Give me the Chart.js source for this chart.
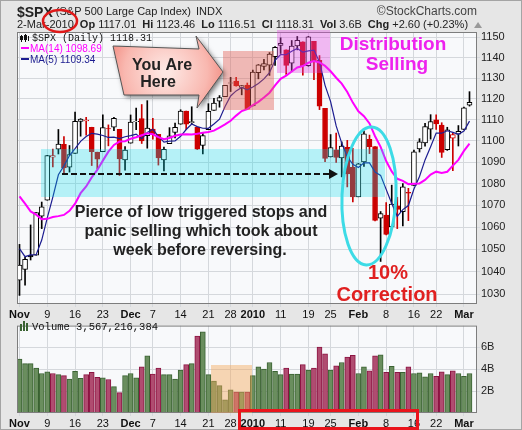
<!DOCTYPE html>
<html>
<head>
<meta charset="utf-8">
<script src="https://cdn.jsdelivr.net/npm/chart.js@4.4.1/dist/chart.umd.min.js"></script>
<style>
  body { margin: 0; background: #fff; }
  #wrap { position: relative; width: 522px; height: 430px; background: #e6e6e6; overflow: hidden; }
  #wrap canvas { position: absolute; left: 0; }
</style>
</head>
<body>
<div id="wrap">
  <canvas id="price" width="522" height="318" style="top:0"></canvas>
  <canvas id="volume" width="522" height="112" style="top:318px"></canvas>
  <canvas id="overlay" width="522" height="430" style="top:0"></canvas>
</div>
<script>
// SPX daily, 2 Nov 2009 .. 2 Mar 2010
const dates = ['Nov 2','Nov 3','Nov 4','Nov 5','Nov 6','Nov 9','Nov 10','Nov 11','Nov 12','Nov 13',
  'Nov 16','Nov 17','Nov 18','Nov 19','Nov 20','Nov 23','Nov 24','Nov 25','Nov 27','Nov 30',
  'Dec 1','Dec 2','Dec 3','Dec 4','Dec 7','Dec 8','Dec 9','Dec 10','Dec 11','Dec 14','Dec 15',
  'Dec 16','Dec 17','Dec 18','Dec 21','Dec 22','Dec 23','Dec 24','Dec 28','Dec 29','Dec 30','Dec 31',
  'Jan 4','Jan 5','Jan 6','Jan 7','Jan 8','Jan 11','Jan 12','Jan 13','Jan 14','Jan 15',
  'Jan 19','Jan 20','Jan 21','Jan 22','Jan 25','Jan 26','Jan 27','Jan 28','Jan 29',
  'Feb 1','Feb 2','Feb 3','Feb 4','Feb 5','Feb 8','Feb 9','Feb 10','Feb 11','Feb 12',
  'Feb 16','Feb 17','Feb 18','Feb 19','Feb 22','Feb 23','Feb 24','Feb 25','Feb 26','Mar 1','Mar 2'];

const opens = [1036.18,1040.92,1047.30,1047.30,1064.95,1072.31,1092.36,1096.04,1098.31,1087.59,
  1094.13,1109.22,1109.44,1106.44,1094.66,1094.86,1105.83,1106.49,1105.47,1091.07,
  1098.89,1109.03,1110.59,1102.43,1105.52,1103.04,1091.07,1098.69,1103.96,1107.84,1114.11,
  1108.61,1106.36,1097.86,1105.31,1114.51,1118.84,1121.08,1127.53,1128.55,1125.53,1126.60,
  1116.56,1132.66,1135.71,1136.27,1140.52,1145.96,1143.81,1137.31,1145.68,1147.72,
  1136.03,1147.95,1138.68,1115.49,1092.40,1095.80,1091.94,1096.93,1087.61,
  1073.89,1090.05,1100.67,1097.25,1064.12,1065.51,1060.06,1069.68,1067.10,1075.95,
  1079.13,1096.14,1099.03,1105.49,1110.00,1107.49,1095.89,1101.24,1103.10,1105.36,1117.01];
const highs = [1052.18,1046.36,1061.00,1066.65,1071.48,1093.19,1096.09,1105.37,1101.97,1097.79,
  1113.69,1110.52,1111.10,1106.44,1094.66,1112.38,1107.56,1111.18,1105.47,1097.24,
  1112.28,1115.58,1117.28,1119.13,1110.72,1103.04,1097.04,1106.25,1108.45,1114.76,1114.11,
  1116.21,1106.36,1103.74,1117.68,1120.27,1121.58,1126.48,1130.38,1130.38,1126.42,1127.64,
  1133.87,1136.63,1139.19,1142.46,1145.39,1149.74,1143.81,1148.40,1150.41,1147.77,
  1150.45,1147.95,1141.00,1115.49,1102.97,1103.69,1099.51,1100.22,1096.45,
  1089.38,1104.73,1102.72,1097.25,1067.13,1071.20,1079.28,1073.67,1080.04,1077.81,
  1095.67,1101.03,1108.24,1112.42,1112.29,1108.58,1106.42,1103.50,1107.24,1116.11,1123.46];
const lows = [1029.38,1033.94,1045.15,1047.30,1059.32,1072.31,1087.73,1093.81,1084.90,1085.33,
  1094.13,1102.19,1102.70,1088.40,1086.81,1094.86,1097.63,1104.75,1083.74,1086.25,
  1098.89,1105.29,1098.74,1096.52,1100.83,1088.61,1085.89,1098.69,1101.34,1107.84,1105.35,
  1107.96,1095.88,1093.88,1105.31,1114.51,1116.00,1121.08,1123.51,1126.08,1121.94,1114.81,
  1116.56,1129.66,1133.95,1131.32,1136.22,1142.02,1131.77,1133.18,1143.80,1131.39,
  1135.77,1129.25,1114.84,1090.18,1092.40,1089.86,1083.11,1078.46,1071.59,
  1073.89,1087.96,1093.97,1062.78,1044.50,1056.51,1060.06,1059.33,1060.59,1062.97,
  1079.13,1094.72,1097.48,1100.80,1105.38,1092.18,1095.50,1086.02,1097.56,1105.36,1116.51];
const closes = [1042.88,1045.41,1046.50,1066.63,1069.30,1093.08,1093.01,1098.51,1087.24,1093.48,
  1109.30,1110.32,1109.80,1094.90,1091.38,1106.24,1105.65,1110.63,1091.49,1095.63,
  1108.86,1109.24,1099.92,1105.98,1103.25,1091.94,1095.95,1102.35,1106.41,1114.11,1107.93,
  1109.18,1096.08,1102.47,1114.05,1118.02,1120.59,1126.48,1127.78,1126.20,1126.42,1115.10,
  1132.99,1136.52,1137.14,1141.69,1144.98,1146.98,1136.22,1145.68,1148.46,1136.03,
  1150.23,1138.04,1116.48,1091.76,1096.78,1092.17,1097.50,1084.53,1073.87,
  1089.19,1103.32,1097.28,1063.11,1066.19,1056.74,1070.52,1068.13,1078.47,1075.51,
  1094.87,1099.51,1106.75,1109.17,1108.01,1094.60,1105.24,1102.94,1104.49,1115.71,1118.31];
// closes of 14..30 Oct 2009, needed to start the moving averages
const priorCloses = [1092.02,1096.56,1087.68,1097.91,1091.06,1081.40,1092.91,1079.60,
  1066.95,1063.41,1042.63,1066.11,1036.19];
// volume in billions of shares
const volumes = [4.9,4.5,4.5,4.1,3.6,3.75,3.6,3.5,3.4,3.1,3.8,3.15,3.5,3.7,3.25,3.2,3.05,2.4,1.85,3.4,
  3.6,3.2,4.2,5.2,3.55,4.1,3.5,3.5,3.1,3.9,4.4,4.5,7.0,7.4,3.5,2.9,2.5,1.2,2.1,1.9,1.9,1.9,
  3.4,4.2,4.0,4.6,3.8,3.5,4.1,3.55,3.55,4.4,3.9,4.1,6.0,5.4,3.9,4.3,4.6,5.1,5.25,
  3.6,4.2,3.85,5.2,5.3,3.7,4.25,3.7,3.7,4.2,3.6,3.65,3.3,3.6,3.35,3.75,3.5,3.85,3.6,3.35,3.6];

const tickIdx = [0,5,10,15,20,24,29,34,38,42,47,52,56,61,66,71,75,80];
const tickText = ['Nov','9','16','23','Dec','7','14','21','28','2010','11','19','25','Feb','8','16','22','Mar'];
const boldTicks = ['Nov','Dec','2010','Feb','Mar'];
const priceTicks = [1030,1040,1050,1060,1070,1080,1090,1100,1110,1120,1130,1140,1150];
const volumeTicks = [2,4,6];

const FONT = 'Arial, "Liberation Sans", sans-serif';
const gridColor = '#d5d8dc';

const allCloses = priorCloses.concat(closes);
function sma(n) {
  return closes.map((c, i) => {
    const end = i + priorCloses.length + 1;
    const win = allCloses.slice(end - n, end);
    return win.reduce((a, b) => a + b, 0) / n;
  });
}
const ma14 = sma(14);
const ma5 = sma(5);

const prevClose = i => (i ? closes[i - 1] : priorCloses[priorCloses.length - 1]);
const isDown = closes.map((c, i) => c < prevClose(i));
const candleColor = isDown.map(d => (d ? '#cc0000' : '#000000'));
const bodyFill = closes.map((c, i) => (c < opens[i] ? candleColor[i] : '#ffffff'));

const plotBg = {
  id: 'plotBg',
  beforeDraw(chart) {
    const a = chart.chartArea, c = chart.ctx;
    c.save();
    c.fillStyle = '#f8f9fb';
    c.fillRect(a.left, a.top, a.right - a.left, a.bottom - a.top);
    c.restore();
  },
  afterDraw(chart) {
    const a = chart.chartArea, c = chart.ctx;
    c.save();
    c.strokeStyle = '#7d7d7d';
    c.lineWidth = 1;
    c.strokeRect(a.left + 0.5, a.top + 0.5, a.right - a.left - 1, a.bottom - a.top - 1);
    c.restore();
  }
};

function xAxis(h) {
  return {
    type: 'linear', min: -0.45, max: 82.35, bounds: 'data', offset: false,
    grid: { offset: false, color: gridColor, tickLength: 3 },
    border: { display: false },
    afterBuildTicks: s => { s.ticks = tickIdx.map(v => ({ value: v })); },
    afterFit: s => { s.height = h; },
    ticks: {
      autoSkip: false, maxRotation: 0, padding: 1, color: '#111',
      font: c => {
        const t = c.tick ? tickText[tickIdx.indexOf(c.tick.value)] : '';
        return { family: FONT, size: 11, weight: boldTicks.includes(t) ? 'bold' : 'normal' };
      },
      callback: v => tickText[tickIdx.indexOf(v)]
    }
  };
}

const idx = closes.map((c, i) => i);

new Chart(document.getElementById('price'), {
  type: 'bar',
  data: {
    datasets: [
      {
        type: 'line', label: 'MA(14)', order: 0,
        data: idx.map(i => ({ x: i, y: ma14[i] })),
        borderColor: '#ff00ff', borderWidth: 2, pointRadius: 0
      },
      {
        type: 'line', label: 'MA(5)', order: 0,
        data: idx.map(i => ({ x: i, y: ma5[i] })),
        borderColor: '#1c1c90', borderWidth: 1.2, pointRadius: 0
      },
      {
        label: 'body', order: 1, grouped: false,
        data: idx.map(i => ({ x: i, y: [Math.min(opens[i], closes[i]), Math.max(opens[i], closes[i])] })),
        backgroundColor: bodyFill, borderColor: candleColor, borderWidth: 1,
        borderSkipped: false, barThickness: 5
      },
      {
        label: 'wick', order: 2, grouped: false,
        data: idx.map(i => ({ x: i, y: [lows[i], highs[i]] })),
        backgroundColor: candleColor, barThickness: 1
      }
    ]
  },
  options: {
    responsive: false, animation: false, events: [],
    layout: { padding: { top: 32, left: 17, right: 0, bottom: 0 } },
    plugins: { legend: { display: false }, tooltip: { enabled: false } },
    scales: {
      x: xAxis(14),
      y: {
        type: 'logarithmic', position: 'right', min: 1025.6, max: 1152.6, bounds: 'data',
        grid: { color: gridColor, tickLength: 3 },
        border: { display: false },
        afterBuildTicks: s => { s.ticks = priceTicks.map(v => ({ value: v })); },
        afterFit: s => { s.width = 45; },
        ticks: { padding: 1, color: '#222', font: { family: FONT, size: 11 }, callback: v => String(v) }
      }
    }
  },
  plugins: [plotBg]
});

new Chart(document.getElementById('volume'), {
  type: 'bar',
  data: {
    datasets: [{
      label: 'Volume',
      data: idx.map(i => ({ x: i, y: volumes[i] })),
      backgroundColor: isDown.map(d => (d ? '#b04c70' : '#6a8e5e')),
      borderColor: isDown.map(d => (d ? '#8c1442' : '#3a6232')),
      borderWidth: 1, borderSkipped: false, barThickness: 5
    }]
  },
  options: {
    responsive: false, animation: false, events: [],
    layout: { padding: { top: 1, left: 17, right: 0, bottom: 0 } },
    plugins: { legend: { display: false }, tooltip: { enabled: false } },
    scales: {
      x: xAxis(17),
      y: {
        type: 'linear', position: 'right', min: 0, max: 7.96, bounds: 'data',
        grid: { color: gridColor, tickLength: 3 },
        border: { display: false },
        afterBuildTicks: s => { s.ticks = volumeTicks.map(v => ({ value: v })); },
        afterFit: s => { s.width = 45; },
        ticks: { padding: 1, color: '#222', font: { family: FONT, size: 11 }, callback: v => v + 'B' }
      }
    }
  },
  plugins: [plotBg]
});

// header, legends and the hand-drawn callouts
const ov = document.getElementById('overlay').getContext('2d');
function text(s, x, y, font, color, align) {
  ov.font = font + ' ' + FONT;
  ov.fillStyle = color || '#222';
  ov.textAlign = align || 'left';
  ov.fillText(s, x, y);
  return ov.measureText(s).width;
}

ov.strokeStyle = '#a4a4a4';
ov.lineWidth = 1;
ov.strokeRect(0.5, 0.5, 521, 429);

let hx = 17;
hx += text('$SPX', hx, 17, 'bold 14px') + 3;
hx += text('(S&P 500 Large Cap Index)', hx, 15, '11px') + 5;
text('INDX', hx, 15, '11px');
text('\u00a9StockCharts.com', 477, 15, '12px', '#444', 'right');

// quote line, laid out left to right
let qx = 17;
qx += text('2-Mar-2010', qx, 28, '11px') + 6;
[['Op', '1117.01'], ['Hi', '1123.46'], ['Lo', '1116.51'], ['Cl', '1118.31'], ['Vol', '3.6B'], ['Chg', '+2.60 (+0.23%)']]
  .forEach(([k, v]) => {
    qx += text(k, qx, 28, 'bold 11px') + 3;
    qx += text(v, qx, 28, '11px') + 6;
  });
ov.fillStyle = '#999';
ov.beginPath(); ov.moveTo(qx, 28); ov.lineTo(qx + 8, 28); ov.lineTo(qx + 4, 22); ov.closePath(); ov.fill();

// price legend
ov.fillStyle = '#111';
ov.fillRect(21, 35, 1, 7); ov.fillRect(20, 36, 3, 4);
ov.fillRect(25, 34, 1, 8); ov.fillRect(24, 35, 3, 5);
ov.fillRect(28, 36, 1, 5);
ov.font = '10px "Liberation Mono", "DejaVu Sans Mono", monospace';
ov.textAlign = 'left';
ov.fillText('$SPX (Daily) 1118.31', 32, 41);
ov.fillStyle = '#ff00ff'; ov.fillRect(21, 47, 8, 2);
text('MA(14) 1098.69', 30, 52, '10px', '#ff00ff');
ov.fillStyle = '#1c1c90'; ov.fillRect(21, 58, 8, 2);
text('MA(5) 1109.34', 30, 63, '10px', '#1c1c90');

// volume legend
ov.fillStyle = '#3a6232';
ov.fillRect(20, 324, 2, 7); ov.fillRect(23, 321, 2, 10); ov.fillRect(26, 323, 2, 8);
ov.fillStyle = '#111';
ov.font = '10.5px "Liberation Mono", "DejaVu Sans Mono", monospace';
ov.fillText('Volume 3,567,216,384', 32, 330);

// shaded zones
ov.fillStyle = 'rgba(0, 222, 238, 0.27)'; ov.fillRect(41, 149, 344, 48);
ov.fillStyle = 'rgba(226, 96, 84, 0.42)'; ov.fillRect(223, 51, 51, 59);
ov.fillStyle = 'rgba(228, 70, 228, 0.36)'; ov.fillRect(277, 30, 53, 43);
ov.fillStyle = 'rgba(244, 168, 92, 0.45)'; ov.fillRect(211, 365, 41, 48);

// dashed arrow
ov.strokeStyle = '#111'; ov.lineWidth = 2; ov.setLineDash([6, 3]);
ov.beginPath(); ov.moveTo(62, 174); ov.lineTo(330, 174); ov.stroke();
ov.setLineDash([]);
ov.fillStyle = '#111';
ov.beginPath(); ov.moveTo(329, 169); ov.lineTo(338, 174); ov.lineTo(329, 179); ov.closePath(); ov.fill();

// "You Are Here" arrow
ov.save();
ov.beginPath();
[[113, 46], [199, 49], [196, 36], [223, 72], [197, 108], [199, 95], [124, 95]]
  .forEach((p, i) => (i ? ov.lineTo(p[0], p[1]) : ov.moveTo(p[0], p[1])));
ov.closePath();
ov.shadowColor = 'rgba(0,0,0,0.55)'; ov.shadowBlur = 5; ov.shadowOffsetX = 2; ov.shadowOffsetY = 2;
const g = ov.createRadialGradient(166, 72, 4, 166, 72, 72);
g.addColorStop(0, '#fde6e2'); g.addColorStop(0.55, '#f9b8b0'); g.addColorStop(1, '#ee7468');
ov.fillStyle = g; ov.fill();
ov.shadowColor = 'transparent';
ov.strokeStyle = '#555'; ov.lineWidth = 1; ov.stroke();
ov.restore();
text('You Are', 162, 70, 'bold 16px', '#222', 'center');
text('Here', 158, 87, 'bold 16px', '#222', 'center');

text('Distribution', 393, 50, 'bold 19px', '#ee22ee', 'center');
text('Selling', 397, 70, 'bold 19px', '#ee22ee', 'center');

text('Pierce of low triggered stops and', 201, 217, 'bold 16px', '#222', 'center');
text('panic selling which took about', 201, 236, 'bold 16px', '#222', 'center');
text('week before reversing.', 200, 255, 'bold 16px', '#222', 'center');

ov.strokeStyle = '#3ddbe6'; ov.lineWidth = 3;
ov.beginPath(); ov.ellipse(369, 196, 27, 69, 0.04, 0, Math.PI * 2); ov.stroke();

text('10%', 388, 279, 'bold 20px', '#e02020', 'center');
text('Correction', 387, 301, 'bold 20px', '#e02020', 'center');

// red marks
ov.strokeStyle = '#e01818'; ov.lineWidth = 2.5;
ov.beginPath(); ov.ellipse(60, 21, 17, 11, 0, 0, Math.PI * 2); ov.stroke();
ov.strokeStyle = '#ea141c'; ov.lineWidth = 3;
ov.strokeRect(239.5, 410.5, 178, 18);
</script>
</body>
</html>
